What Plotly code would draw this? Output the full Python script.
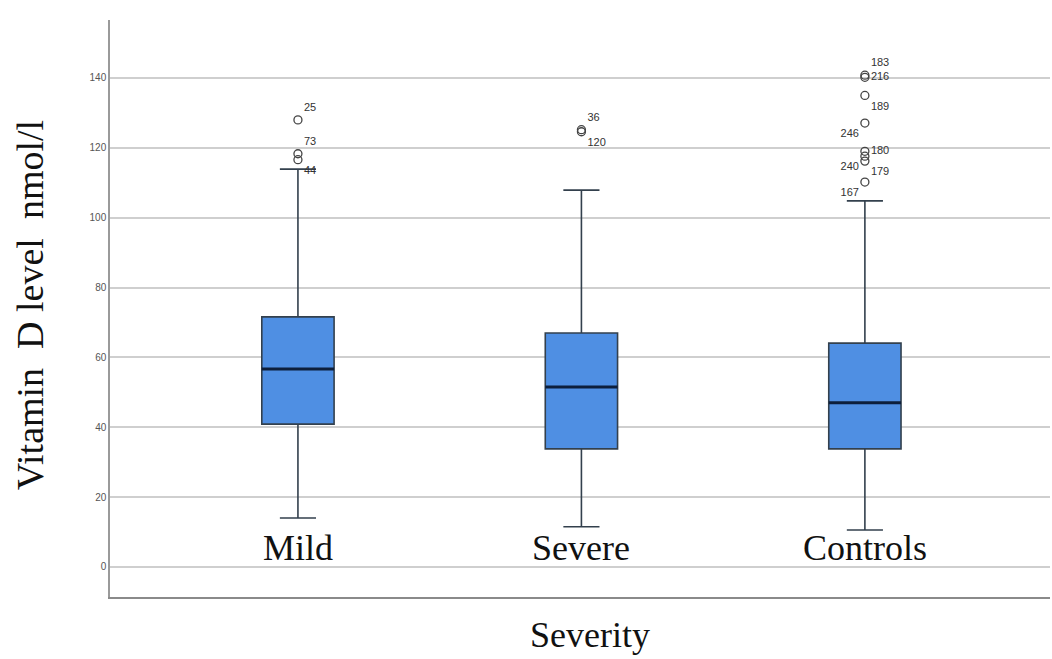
import plotly.graph_objects as go

categories = ["Mild", "Severe", "Controls"]
q1_vals = [40.9, 33.8, 33.8]
median_vals = [56.7, 51.5, 47.0]
q3_vals = [71.6, 67.0, 64.1]
lower_vals = [14.0, 11.5, 10.6]
upper_vals = [113.9, 107.9, 104.8]

mild_out = [128.0, 118.3, 116.6]
mild_ids = ["25", "73", "44"]
mild_pos = ["top right", "top right", "bottom right"]

severe_out = [125.2, 124.6]
severe_ids = ["36", "120"]
severe_pos = ["top right", "bottom right"]

controls_out = [140.8, 140.2, 135.0, 127.1, 119.0, 117.6, 116.2, 110.2]
controls_ids = ["183", "216", "189", "246", "180", "240", "179", "167"]
controls_pos = ["top right", "middle right", "bottom right", "bottom left",
                "middle right", "bottom left", "bottom right", "bottom left"]

y_ticks = [0, 20, 40, 60, 80, 100, 120, 140]

box_w = 0.255
line_col = "#33404d"
serif = "Liberation Serif, Times New Roman, serif"

fig = go.Figure()
fig.add_trace(go.Box(
    x=categories, q1=q1_vals, median=median_vals, q3=q3_vals,
    lowerfence=lower_vals, upperfence=upper_vals,
    boxpoints=False, width=box_w, whiskerwidth=0.5,
    fillcolor="#4f8fe3", line=dict(color=line_col, width=1.6),
    showlegend=False, hoverinfo="skip",
))

for cat, vals, ids, pos in [("Mild", mild_out, mild_ids, mild_pos),
                            ("Severe", severe_out, severe_ids, severe_pos),
                            ("Controls", controls_out, controls_ids, controls_pos)]:
    fig.add_trace(go.Scatter(
        x=[cat] * len(vals), y=vals, mode="markers+text",
        text=ids, textposition=pos,
        textfont=dict(family="Arial, Liberation Sans", size=11, color="#333"),
        marker=dict(symbol="circle-open", size=8, color="#444", line=dict(width=1.3)),
        showlegend=False, hoverinfo="skip", cliponaxis=False,
    ))

for i, m in enumerate(median_vals):
    fig.add_shape(type="line", xref="x", yref="y",
                  x0=i - box_w / 2, x1=i + box_w / 2, y0=m, y1=m,
                  line=dict(color="#0d1f3c", width=3))

# category labels drawn inside the plot area, as in the reference
for cat in categories:
    fig.add_annotation(x=cat, xref="x", y=0.085, yref="paper",
                       text=cat, showarrow=False, xanchor="center", yanchor="middle",
                       font=dict(family=serif, size=36, color="#111"))

fig.add_annotation(x=0.5106, xref="paper", y=-0.066, yref="paper",
                   text="Severity", showarrow=False, xanchor="center", yanchor="middle",
                   font=dict(family=serif, size=36, color="#111"))
fig.add_annotation(x=-0.085, xref="paper", y=0.506, yref="paper",
                   text="Vitamin\u00a0 D level\u00a0 nmol/l", textangle=-90, showarrow=False,
                   xanchor="center", yanchor="middle",
                   font=dict(family=serif, size=38, color="#111"))

fig.update_layout(
    width=1052, height=659,
    margin=dict(l=110, r=2, t=20, b=62),
    paper_bgcolor="white", plot_bgcolor="white",
    xaxis=dict(
        type="category", range=[-0.663, 2.653], automargin=False,
        showline=True, linecolor="#8a8a8a", linewidth=2,
        showgrid=False, ticks="", showticklabels=False,
    ),
    yaxis=dict(
        range=[-8.6, 156.6], tickvals=y_ticks, automargin=False,
        showline=True, linecolor="#9a9a9a", linewidth=1.5,
        showgrid=True, gridcolor="#cfcfcf", gridwidth=1.5,
        zeroline=True, zerolinecolor="#cfcfcf", zerolinewidth=1.5,
        ticks="", tickfont=dict(family="Arial, Liberation Sans", size=10, color="#555"),
    ),
)

fig.write_html("out.html", config={"displayModeBar": False},
               post_script="document.body.style.margin='0';document.body.style.overflow='hidden';")
